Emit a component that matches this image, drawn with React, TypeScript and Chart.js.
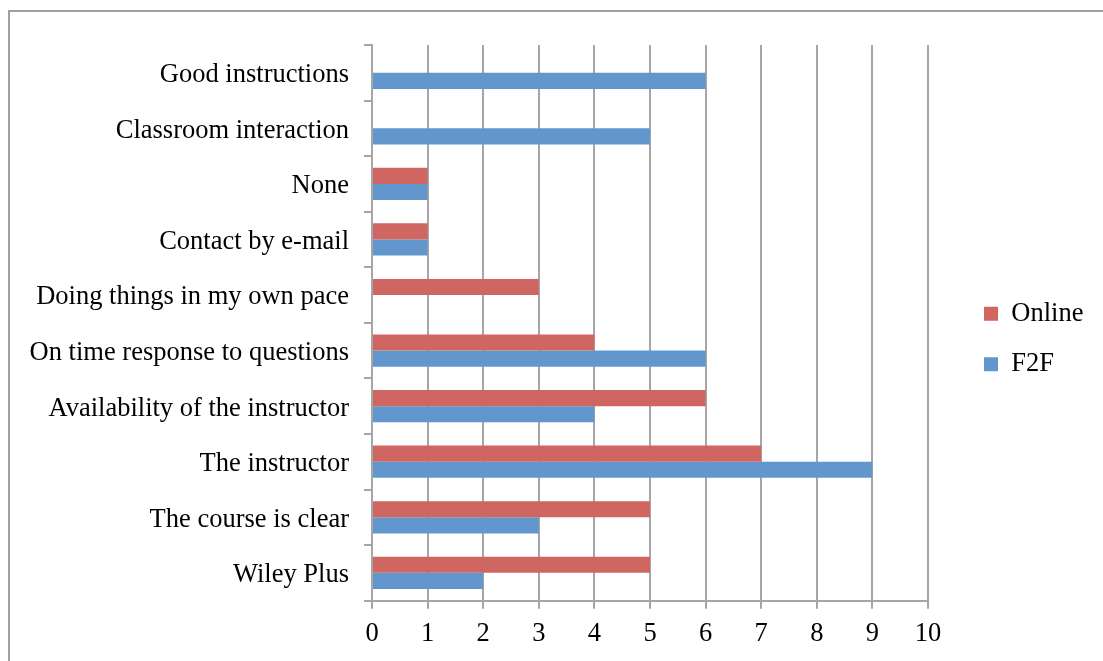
import React, { useEffect, useRef } from "react";
import { Chart, registerables } from "chart.js";

Chart.register(...registerables);

const categories = [
  "Good instructions",
  "Classroom interaction",
  "None",
  "Contact by e-mail",
  "Doing things in my own pace",
  "On time response to questions",
  "Availability of the instructor",
  "The instructor",
  "The course is clear",
  "Wiley Plus",
];
const onlineValues = [0, 0, 1, 1, 3, 4, 6, 7, 5, 5];
const f2fValues = [6, 5, 1, 1, 0, 6, 4, 9, 3, 2];
const seriesNames = ["Online", "F2F"];
const xTicksMin = 0;
const xTicksMax = 10;

const FONT = "'Liberation Serif', 'Times New Roman', serif";
const GRID = "#a6a6a6";
const FS = 26.5;

export default function App() {
  const ref = useRef<HTMLCanvasElement | null>(null);

  useEffect(() => {
    if (!ref.current) return;
    const chart = new Chart(ref.current, {
      type: "bar",
      data: {
        labels: categories,
        datasets: [
          {
            label: seriesNames[0],
            data: onlineValues,
            backgroundColor: "#cf6661",
            borderWidth: 0,
            barPercentage: 1,
            categoryPercentage: 0.58,
          },
          {
            label: seriesNames[1],
            data: f2fValues,
            backgroundColor: "#6297cd",
            borderWidth: 0,
            barPercentage: 1,
            categoryPercentage: 0.58,
          },
        ],
      },
      options: {
        indexAxis: "y",
        animation: false,
        responsive: false,
        maintainAspectRatio: false,
        layout: { padding: { top: 18, left: 0, right: 9.6, bottom: 1 } },
        plugins: {
          tooltip: { enabled: false },
          title: {
            display: true,
            text: "",
            padding: 0,
            font: { size: 27, lineHeight: 1 },
          },
          legend: {
            position: "right",
            labels: {
              boxWidth: 14,
              boxHeight: 14,
              padding: 24,
              color: "#000",
              font: { family: FONT, size: FS },
            },
          },
        },
        scales: {
          x: {
            type: "linear",
            min: xTicksMin,
            max: xTicksMax,
            ticks: {
              stepSize: 1,
              color: "#000",
              padding: 24.35,
              font: { family: FONT, size: FS, lineHeight: 0.1 },
            },
            grid: { color: GRID, lineWidth: 2, tickLength: 8 },
            border: { color: GRID, width: 2 },
          },
          y: {
            type: "category",
            afterFit: (s: any) => {
              s.width = 372;
            },
            ticks: {
              color: "#000",
              padding: 15,
              labelOffset: 2.5,
              font: { family: FONT, size: FS },
            },
            grid: {
              drawOnChartArea: false,
              drawTicks: true,
              tickLength: 8,
              color: GRID,
              lineWidth: 2,
            },
            border: { color: GRID, width: 2 },
          },
          y2: {
            type: "linear",
            position: "right",
            display: true,
            afterFit: (s: any) => {
              s.width = 32;
            },
            ticks: { display: false },
            grid: { display: false },
            border: { display: false },
          },
        },
      },
    });
    return () => chart.destroy();
  }, []);

  return (
    <div
      style={{
        position: "absolute",
        left: 0,
        top: 0,
        width: 1103,
        height: 661,
        overflow: "hidden",
        background: "#fff",
      }}
    >
      <div
        style={{
          position: "absolute",
          left: 8,
          top: 10,
          width: 1200,
          height: 800,
          borderTop: "2px solid #a0a0a0",
          borderLeft: "2px solid #a0a0a0",
        }}
      />
      <canvas
        ref={ref}
        width={1103}
        height={661}
        style={{ position: "absolute", left: 0, top: 0, display: "block" }}
      />
    </div>
  );
}
